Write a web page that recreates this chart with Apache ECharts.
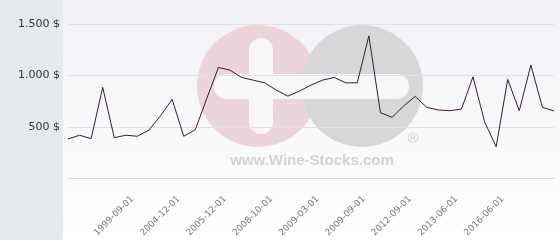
<!DOCTYPE html>
<html>
<head>
<meta charset="utf-8">
<script src="https://cdn.jsdelivr.net/npm/echarts@6/dist/echarts.min.js"></script>
<style>
html,body{margin:0;padding:0;background:#fff;}
#c{width:560px;height:240px;}
</style>
</head>
<body>
<div id="c"></div>
<script>
var categories = [
  '1995-05-01','1996-03-01','1997-01-01','1997-09-01','1998-06-01','1999-01-01',
  '1999-09-01','2001-03-01','2002-06-01','2003-10-01',
  '2004-12-01','2005-03-01','2005-06-01','2005-09-01',
  '2005-12-01','2006-09-01','2007-06-01','2008-03-01',
  '2008-10-01','2008-11-01','2008-12-01','2009-01-01',
  '2009-03-01','2009-05-01','2009-06-01','2009-08-01',
  '2009-09-01','2010-06-01','2011-03-01','2011-12-01',
  '2012-09-01','2012-12-01','2013-02-01','2013-04-01',
  '2013-06-01','2014-03-01','2014-12-01','2015-09-01',
  '2016-06-01','2017-03-01','2018-01-01','2018-10-01','2019-06-01'
];
var prices = [
  384, 420, 387, 885, 396, 420, 410, 471, 610, 768,
  410, 474, 778, 1078, 1052, 981, 955, 929, 858, 800,
  848, 907, 955, 981, 929, 929, 1385, 639, 594, 703,
  797, 691, 665, 658, 674, 987, 551, 309, 962, 658,
  1101, 691, 655
];
var yTicks = [0, 500, 1000, 1500];

var chart = echarts.init(document.getElementById('c'), null, {renderer:'canvas'});
chart.setOption({
  animation: false,
  backgroundColor: '#ffffff',
  graphic: [
    {type:'rect', z:-10, silent:true, shape:{x:0,y:0,width:63,height:240}, style:{fill:'#e6eaed'}},
    {type:'rect', z:-10, silent:true, shape:{x:63,y:0,width:497,height:240},
      style:{fill:new echarts.graphic.LinearGradient(0,0,0,1,[{offset:0,color:'#f1f2f6'},{offset:1,color:'#ffffff'}])}},
    {type:'circle', z:-5, silent:true, shape:{cx:258,cy:86,r:61}, style:{fill:'#ebd4da'}},
    {type:'circle', z:-5, silent:true, shape:{cx:362,cy:86,r:61}, style:{fill:'#d7d7d9'}},
    {type:'rect', z:-4, silent:true, shape:{x:249,y:38,width:24,height:96,r:12}, style:{fill:'#f7f7f9'}},
    {type:'rect', z:-4, silent:true, shape:{x:214,y:74,width:195,height:25,r:12}, style:{fill:'#f7f7f9'}},
    {type:'text', z:-4, silent:true, style:{x:312,y:161,text:'www.Wine-Stocks.com',fill:'#d3d3d3',
      font:'bold 15px "Liberation Sans", Arial, sans-serif',align:'center',verticalAlign:'middle'}},
    {type:'text', z:-4, silent:true, style:{x:413,y:139,text:'\u00AE',fill:'#cfcfcf',
      font:'15px "Liberation Sans", Arial, sans-serif',align:'center',verticalAlign:'middle'}}
  ],
  grid: {left:68, right:6, top:24, bottom:61.5, containLabel:false},
  xAxis: {
    type:'category',
    data: categories,
    boundaryGap:false,
    axisLine:{show:true, lineStyle:{color:'#d8d8d8', width:1}},
    axisTick:{show:false},
    splitLine:{show:false},
    axisLabel:{
      rotate:45,
      margin:14,
      padding:[0,7,0,0],
      color:'#777',
      fontSize:9,
      fontFamily:'"DejaVu Sans", sans-serif',
      interval:function(i){ return i>=6 && i<=38 && (i-6)%4===0; }
    }
  },
  yAxis: {
    type:'value',
    min:yTicks[0], max:yTicks[yTicks.length-1], interval:500,
    axisLine:{show:false},
    axisTick:{show:false},
    splitLine:{lineStyle:{color:'#e2e2e6', width:1}},
    axisLabel:{
      margin:8,
      color:'#333',
      fontSize:11,
      fontFamily:'"DejaVu Sans", sans-serif',
      formatter:function(v){ if(v===0) return ''; return (v>=1000 ? Math.floor(v/1000)+'.'+String(v%1000).padStart(3,'0') : String(v)) + ' $'; }
    }
  },
  series: [{
    type:'line',
    data: prices,
    symbol:'none',
    lineStyle:{color:'#3b1a2a', width:1},
    z:5
  }]
});
</script>
</body>
</html>
